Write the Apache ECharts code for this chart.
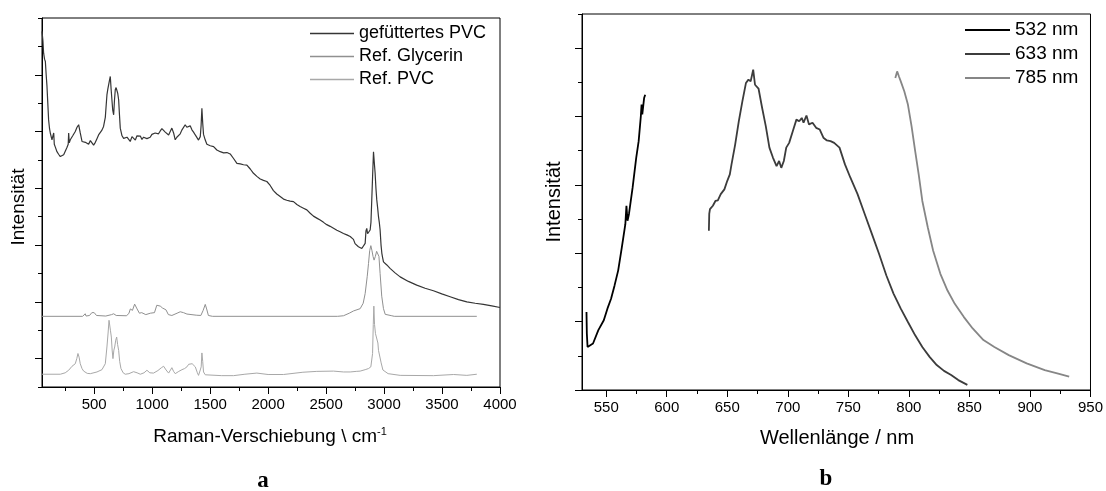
<!DOCTYPE html>
<html>
<head>
<meta charset="utf-8">
<script src="https://cdn.jsdelivr.net/npm/echarts@6/dist/echarts.min.js"></script>
<style>
html, body { margin: 0; padding: 0; background: #fff; }
#chart { width: 1106px; height: 491px; }
</style>
</head>
<body>
<div id="chart"></div>
<script>
// panel a: Raman spectra [cm-1, intensity (a.u.)]
var pvcFilled = [[50,12.53],[58,12.2],[64,11.76],[72,11.55],[79,11.47],[86,11.0],[93,10.59],[100,10.0],[107,9.41],[115,9.1],[122,8.94],[136,8.71],[145,8.65],[151,8.95],[156,8.55],[165,8.45],[179,8.29],[193,8.2],[208,8.12],[222,8.06],[237,8.18],[251,8.24],[266,8.45],[276,8.55],[280,8.95],[285,8.6],[294,8.71],[315,8.85],[337,9.0],[352,9.15],[366,9.24],[380,8.95],[395,8.65],[410,8.72],[424,8.62],[438,8.65],[452,8.55],[467,8.68],[481,8.6],[495,8.52],[510,8.62],[524,8.75],[538,8.88],[553,8.95],[567,9.05],[581,9.18],[596,9.5],[603,9.9],[610,10.29],[618,10.5],[625,10.65],[632,10.8],[639,10.94],[646,10.5],[653,10.12],[660,9.75],[668,9.59],[675,10.1],[682,10.47],[689,10.55],[696,10.61],[703,10.35],[711,10.12],[718,9.6],[725,9.12],[740,8.85],[754,8.76],[768,8.7],[783,8.8],[797,8.73],[811,8.65],[826,8.82],[840,8.82],[855,8.7],[869,8.85],[883,8.78],[898,8.84],[912,8.72],[926,8.80],[940,8.86],[955,8.75],[969,8.82],[983,8.8],[998,8.9],[1012,8.85],[1026,8.95],[1041,8.98],[1055,8.92],[1070,9.02],[1084,9.1],[1099,9.06],[1113,8.98],[1127,8.95],[1142,8.88],[1156,9.0],[1170,9.12],[1185,8.95],[1199,8.71],[1213,8.8],[1228,8.85],[1242,8.92],[1256,9.05],[1270,9.12],[1285,9.24],[1299,9.15],[1314,9.18],[1328,9.2],[1343,9.06],[1357,8.98],[1372,8.88],[1386,8.82],[1400,8.7],[1415,8.82],[1422,9.2],[1429,9.82],[1436,9.3],[1443,8.9],[1458,8.7],[1472,8.55],[1501,8.5],[1530,8.47],[1558,8.35],[1587,8.29],[1616,8.25],[1645,8.26],[1673,8.21],[1702,8.05],[1731,7.88],[1760,7.86],[1788,7.83],[1817,7.82],[1846,7.68],[1874,7.53],[1903,7.42],[1932,7.33],[1960,7.28],[1989,7.24],[2018,7.1],[2046,6.92],[2075,6.8],[2104,6.71],[2133,6.62],[2161,6.58],[2190,6.55],[2219,6.53],[2248,6.43],[2276,6.36],[2305,6.3],[2334,6.24],[2363,6.12],[2391,6.02],[2420,5.95],[2449,5.88],[2478,5.8],[2506,5.72],[2535,5.66],[2564,5.59],[2593,5.52],[2621,5.47],[2650,5.41],[2679,5.36],[2708,5.3],[2722,5.24],[2736,5.2],[2750,5.05],[2765,4.98],[2779,4.94],[2794,4.9],[2808,4.88],[2822,4.92],[2837,5.06],[2844,5.5],[2851,5.59],[2858,5.4],[2866,5.35],[2873,5.45],[2880,5.53],[2887,5.8],[2894,6.59],[2901,7.4],[2909,8.29],[2916,7.9],[2923,7.53],[2930,7.0],[2937,6.6],[2945,6.3],[2952,6.0],[2959,5.8],[2966,5.53],[2974,5.0],[2981,4.71],[2988,4.55],[2995,4.41],[3024,4.3],[3052,4.18],[3095,4.02],[3139,3.88],[3210,3.72],[3282,3.59],[3354,3.48],[3426,3.39],[3498,3.28],[3570,3.18],[3642,3.08],[3714,3.0],[3786,2.95],[3857,2.91],[3929,2.86],[4000,2.80]];
var glycerinRef = [[50,2.49],[400,2.49],[415,2.52],[423,2.58],[430,2.5],[460,2.52],[480,2.62],[490,2.68],[500,2.62],[520,2.52],[600,2.5],[650,2.55],[668,2.58],[690,2.52],[780,2.51],[800,2.6],[812,2.75],[830,2.7],[849,2.92],[870,2.75],[890,2.6],[910,2.62],[926,2.68],[945,2.55],[960,2.52],[985,2.6],[998,2.63],[1020,2.62],[1040,2.88],[1050,2.94],[1070,2.85],[1090,2.78],[1099,2.74],[1119,2.72],[1140,2.55],[1170,2.52],[1215,2.6],[1242,2.65],[1270,2.62],[1300,2.57],[1380,2.53],[1420,2.52],[1440,2.7],[1458,2.91],[1470,2.75],[1485,2.52],[1520,2.49],[2600,2.49],[2650,2.51],[2700,2.6],[2737,2.68],[2794,2.76],[2820,2.95],[2837,3.29],[2855,3.9],[2866,4.35],[2876,4.8],[2886,4.98],[2896,4.8],[2905,4.6],[2914,4.47],[2925,4.6],[2936,4.78],[2946,4.82],[2956,4.6],[2966,4.0],[2980,3.2],[2995,2.76],[3010,2.56],[3024,2.53],[3067,2.51],[3075,2.52],[3081,2.58],[3088,2.49],[3800,2.49]];
var pvcRef = [[50,0.45],[208,0.45],[250,0.5],[280,0.59],[309,0.73],[337,0.82],[350,1.0],[360,1.18],[370,1.05],[380,0.82],[395,0.65],[409,0.56],[440,0.48],[467,0.47],[524,0.53],[567,0.61],[596,0.82],[610,1.41],[620,1.9],[628,2.35],[633,2.41],[640,2.0],[648,1.76],[655,1.3],[662,1.0],[670,1.3],[677,1.41],[686,1.65],[694,1.76],[702,1.5],[711,1.29],[720,0.9],[731,0.65],[750,0.5],[768,0.45],[800,0.47],[840,0.54],[870,0.5],[898,0.45],[930,0.5],[955,0.59],[980,0.5],[1012,0.49],[1050,0.58],[1080,0.68],[1099,0.73],[1120,0.6],[1142,0.49],[1155,0.55],[1170,0.68],[1185,0.55],[1199,0.47],[1230,0.55],[1257,0.61],[1280,0.65],[1300,0.71],[1315,0.8],[1329,0.85],[1345,0.82],[1372,0.71],[1390,0.5],[1400,0.41],[1415,0.6],[1423,0.71],[1429,1.2],[1436,0.9],[1443,0.53],[1458,0.43],[1472,0.41],[1600,0.4],[1702,0.4],[1800,0.45],[1903,0.49],[2000,0.44],[2133,0.44],[2300,0.52],[2420,0.55],[2564,0.56],[2650,0.53],[2708,0.53],[2760,0.55],[2794,0.56],[2837,0.61],[2866,0.65],[2886,0.71],[2901,1.18],[2907,2.2],[2912,2.85],[2918,2.2],[2926,1.88],[2934,1.85],[2941,1.88],[2947,1.55],[2952,1.29],[2960,1.25],[2966,1.24],[2975,0.85],[2981,0.82],[2990,0.6],[2998,0.59],[3035,0.47],[3139,0.41],[3426,0.4],[3600,0.44],[3714,0.41],[3800,0.45]];

// panel b: fluorescence [nm, intensity (a.u.)]
var laser532 = [[533.7,2.28],[534.0,1.65],[534.6,1.26],[536.1,1.23],[539.1,1.36],[543.5,1.75],[548.0,2.04],[551.0,2.38],[554.0,2.67],[556.9,3.06],[559.9,3.50],[562.9,4.17],[565.8,4.85],[566.7,5.39],[567.6,4.95],[568.8,5.15],[571.8,5.92],[574.8,6.80],[576.8,7.28],[578.6,8.01],[579.2,8.35],[579.8,8.06],[581.3,8.54],[582.2,8.64]];
var laser633 = [[634.8,4.66],[635.1,5.15],[635.7,5.29],[638.1,5.39],[640.2,5.53],[642.2,5.55],[644.6,5.73],[647.6,5.87],[650.0,6.12],[652.1,6.31],[653.5,6.60],[656.5,7.18],[659.5,7.86],[662.5,8.45],[665.4,8.98],[667.5,9.08],[669.3,9.03],[671.4,9.37],[672.9,8.93],[674.4,8.98],[675.8,8.82],[678.8,8.25],[681.8,7.72],[684.8,7.09],[687.7,6.80],[690.7,6.55],[692.8,6.70],[694.6,6.50],[696.7,6.70],[698.7,7.09],[701.1,7.23],[704.1,7.57],[707.1,7.91],[709.4,7.86],[711.5,7.96],[713.0,7.82],[715.4,8.03],[717.5,7.77],[720.4,7.82],[723.4,7.67],[726.4,7.62],[729.4,7.38],[732.3,7.30],[735.3,7.28],[738.3,7.23],[742.7,7.09],[747.2,6.60],[751.7,6.21],[757.6,5.73],[763.5,5.15],[769.5,4.56],[775.4,3.98],[781.4,3.35],[787.3,2.82],[793.3,2.38],[799.2,1.99],[805.2,1.60],[811.1,1.26],[817.1,0.97],[823.0,0.73],[829.0,0.56],[834.9,0.44],[840.8,0.29],[848.3,0.15]];
var laser785 = [[788.8,9.13],[790.3,9.32],[791.8,9.17],[793.3,9.03],[796.2,8.74],[799.2,8.35],[802.2,7.72],[805.2,6.99],[808.1,6.31],[811.1,5.53],[815.6,4.76],[820.0,4.08],[826.0,3.40],[831.9,2.91],[837.9,2.52],[845.3,2.14],[852.7,1.80],[861.6,1.46],[870.6,1.26],[882.5,1.02],[897.3,0.78],[912.2,0.58],[924.1,0.47],[932.4,0.39]];

// tick positions
var ramanMajor = [500, 1000, 1500, 2000, 2500, 3000, 3500, 4000];
var ramanMinor = [250, 750, 1250, 1750, 2250, 2750, 3250, 3750];
var waveMajor = [550, 600, 650, 700, 750, 800, 850, 900, 950];
var waveMinor = [575, 625, 675, 725, 775, 825, 875, 925];
var intAMajor = [1, 3, 5, 7, 9, 11];
var intAMinor = [0, 2, 4, 6, 8, 10, 12, 13];
var intBMajor = [0, 2, 4, 6, 8, 10];
var intBMinor = [1, 3, 5, 7, 9, 11];

var FONT = '"Liberation Sans", Arial, sans-serif';
var chart = echarts.init(document.getElementById('chart'));

function majorAxis(grid, min, max, pos, ticks, labels) {
    return {
        gridIndex: grid, type: 'value', min: min, max: max, position: pos,
        axisLine: { show: true, onZero: false, lineStyle: { color: '#000', width: 1 } },
        axisTick: { show: true, customValues: ticks, length: 7, lineStyle: { color: '#000', width: 1 } },
        axisLabel: labels ? {
            show: true, customValues: labels, margin: 10, color: '#000', fontSize: 15, fontFamily: FONT,
            formatter: function (v) { return String(v); }
        } : { show: false },
        splitLine: { show: false }
    };
}
function minorAxis(grid, min, max, pos, ticks) {
    return {
        gridIndex: grid, type: 'value', min: min, max: max, position: pos,
        axisLine: { show: false, onZero: false },
        axisTick: { show: true, customValues: ticks, length: 4, lineStyle: { color: '#000', width: 1 } },
        axisLabel: { show: false },
        splitLine: { show: false }
    };
}
function line(name, data, xi, yi, color, width) {
    return {
        name: name, type: 'line', data: data, xAxisIndex: xi, yAxisIndex: yi,
        symbol: 'none', showSymbol: false, silent: true,
        lineStyle: { color: color, width: width }, itemStyle: { color: color }
    };
}

chart.setOption({
    animation: false,
    backgroundColor: '#fff',
    grid: [
        { left: 42, top: 18, right: 606, bottom: 104, show: true, borderColor: '#000', borderWidth: 1 },
        { left: 582, top: 14, right: 14, bottom: 101, show: true, borderColor: '#000', borderWidth: 1 }
    ],
    xAxis: [
        majorAxis(0, 50, 4000, 'bottom', ramanMajor, ramanMajor),
        minorAxis(0, 50, 4000, 'bottom', ramanMinor),
        majorAxis(1, 530, 950, 'bottom', waveMajor, waveMajor),
        minorAxis(1, 530, 950, 'bottom', waveMinor)
    ],
    yAxis: [
        majorAxis(0, 0, 13, 'left', intAMajor, null),
        minorAxis(0, 0, 13, 'left', intAMinor),
        majorAxis(1, 0, 11, 'left', intBMajor, null),
        minorAxis(1, 0, 11, 'left', intBMinor)
    ],
    legend: [
        {
            data: ['gefüttertes PVC', 'Ref. Glycerin', 'Ref. PVC'],
            orient: 'vertical', left: 310, top: 22, padding: 0, itemGap: 0,
            icon: 'rect', itemWidth: 44, itemHeight: 1.3,
            textStyle: { fontSize: 18, lineHeight: 23, color: '#000', fontFamily: FONT }
        },
        {
            data: ['532 nm', '633 nm', '785 nm'],
            orient: 'vertical', left: 965, top: 18, padding: 0, itemGap: 0,
            icon: 'rect', itemWidth: 45, itemHeight: 2,
            textStyle: { fontSize: 19, lineHeight: 24, color: '#000', fontFamily: FONT }
        }
    ],
    series: [
        line('gefüttertes PVC', pvcFilled, 0, 0, '#353535', 1.2),
        line('Ref. Glycerin', glycerinRef, 0, 0, '#909090', 1),
        line('Ref. PVC', pvcRef, 0, 0, '#a8a8a8', 1),
        line('532 nm', laser532, 2, 2, '#000000', 1.8),
        line('633 nm', laser633, 2, 2, '#3c3c3c', 1.8),
        line('785 nm', laser785, 2, 2, '#868686', 1.8)
    ],
    graphic: [
        { type: 'text', x: 18.5, y: 207, rotation: Math.PI / 2,
          style: { text: 'Intensität', font: '19px ' + FONT, fill: '#000', align: 'center', verticalAlign: 'middle' } },
        { type: 'text', x: 554, y: 202, rotation: Math.PI / 2,
          style: { text: 'Intensität', font: '20px ' + FONT, fill: '#000', align: 'center', verticalAlign: 'middle' } },
        { type: 'text', x: 270, y: 437,
          style: { text: '{t|Raman-Verschiebung \\ cm}{s|-1}', align: 'center', verticalAlign: 'middle',
                   rich: { t: { fontSize: 19, fontFamily: FONT, color: '#000', lineHeight: 22 },
                           s: { fontSize: 11, fontFamily: FONT, color: '#000', verticalAlign: 'top' } } } },
        { type: 'text', x: 837, y: 438,
          style: { text: 'Wellenlänge / nm', font: '20px ' + FONT, fill: '#000', align: 'center', verticalAlign: 'middle' } },
        { type: 'text', x: 263, y: 481,
          style: { text: 'a', font: 'bold 23px "Liberation Serif", serif', fill: '#000', align: 'center', verticalAlign: 'middle' } },
        { type: 'text', x: 826, y: 479,
          style: { text: 'b', font: 'bold 23px "Liberation Serif", serif', fill: '#000', align: 'center', verticalAlign: 'middle' } }
    ]
});
</script>
</body>
</html>
